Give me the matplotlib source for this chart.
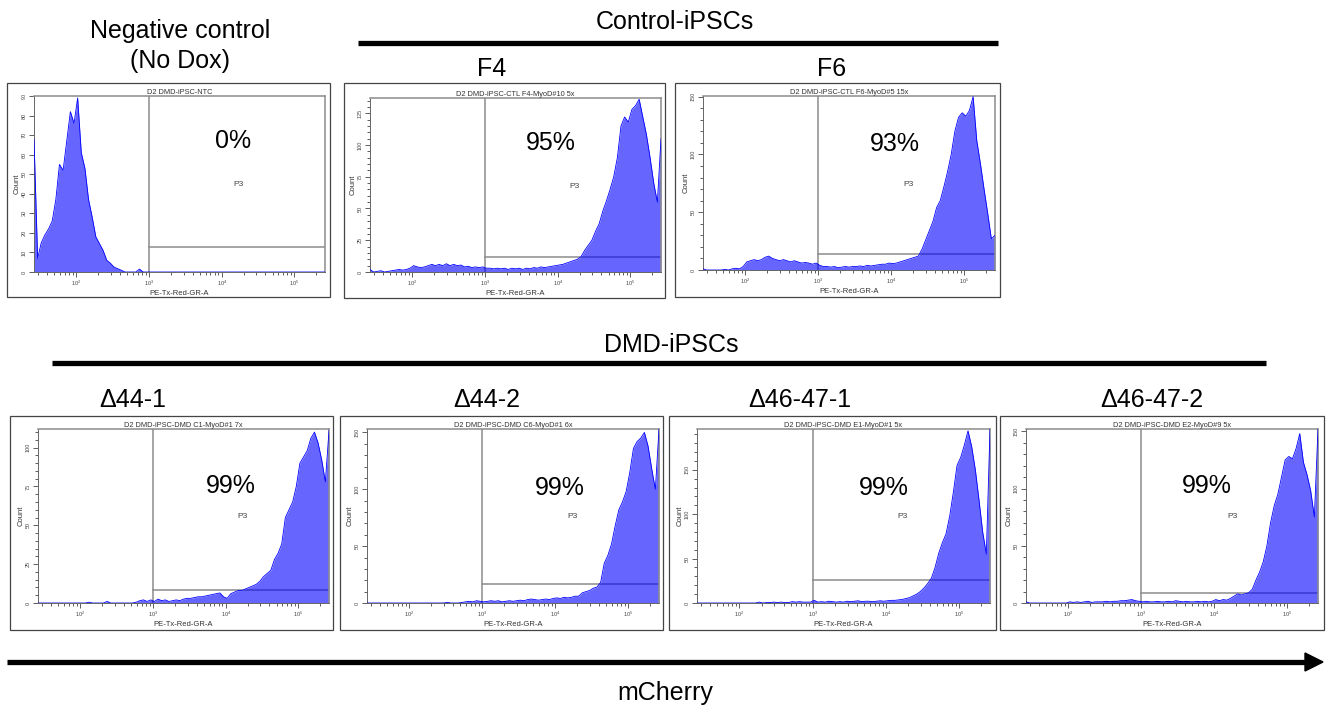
import numpy as np
import matplotlib
matplotlib.use('Agg')
import matplotlib.pyplot as plt
from matplotlib.patches import Rectangle, Polygon
from matplotlib.ticker import MultipleLocator, NullLocator

plt.rcParams['font.family'] = ['Liberation Sans', 'DejaVu Sans']

W, H = 1333, 709

# histogram channels of the cytometer, log10(PE-Tx-Red-GR-A)
log_bins = np.round(1.42 + 0.05 * np.arange(81), 2)

# counts per channel
neg_ctrl = [68, 7, 15, 19, 22, 26, 37, 55, 52, 67,
            82, 76, 89, 61, 53, 37, 28, 18, 14.5, 11,
            6, 4.5, 2.5, 1.7, 0.9, 0, 0, 0, 0, 1.5] + [0] * 51
ctl_f4 = [2, 0, 0.5, 1, 0, 0.5, 1, 1.5, 2, 1.5,
          2, 3, 5, 4, 3.5, 4, 5, 6, 5, 6,
          5, 6.5, 5, 6, 5, 5.5, 4, 4.5, 3.5, 4,
          3.5, 4, 3, 3, 2.5, 3, 2.5, 3, 2, 3,
          2.5, 3, 2, 3, 2.5, 3.5, 3, 4, 3.5, 4,
          4.5, 5, 5.5, 6, 7, 8, 9, 10, 12, 17,
          21, 25, 32, 38, 48, 56, 65, 75, 90, 115,
          122, 118, 128, 131, 136, 122, 108, 90, 70, 55,
          105]
ctl_f6 = [1, 0, 0, 0, 0, 0, 0.5, 0, 1, 1.5,
          1, 3, 7, 8, 9, 8, 9, 11, 12, 10,
          9, 8, 9, 8, 7, 8, 7, 6, 6.5, 6,
          5, 6, 4, 3, 3, 2.5, 3, 2, 2.5, 3,
          2.5, 3, 3, 3.5, 3, 4, 3.5, 4, 4.5, 5,
          5, 6, 5.5, 6, 7, 8, 9, 10, 11, 12,
          18, 26, 34, 42, 54, 60, 72, 85, 100, 120,
          132, 136, 133, 138, 150, 112, 92, 70, 49, 27,
          30]
dmd_44_1 = [0, 0, 0, 0, 0, 0, 0, 0, 0, 0,
            0, 0, 0, 0, 0.5, 0, 0, 0, 0, 1,
            0, 0, 0, 0, 0, 0, 0, 0.5, 1.5, 2,
            1, 2, 1, 2.5, 1.5, 2, 1, 1.5, 2, 1.5,
            2.5, 3, 3, 3.5, 4, 4, 4.5, 5, 5.5, 6,
            6.5, 4, 3, 6, 7, 8, 8, 9, 10, 11,
            12, 14, 17, 19, 21, 28, 32, 38, 55, 60,
            65, 75, 90, 94, 98, 106, 110, 103, 92, 78,
            111]
dmd_44_2 = [0, 0, 0, 0, 0, 0, 0, 0, 0, 0,
            0, 0, 0, 0, 0, 0, 0, 0, 0, 0,
            0, 0, 0.5, 0, 0, 0, 0.5, 1, 1.5, 1,
            2, 1.5, 1, 1.5, 2, 1.5, 2, 1, 1.5, 2,
            1.5, 2, 2.5, 2, 3, 3.5, 3, 2.5, 3, 3.5,
            3, 4, 4.5, 4, 5, 4.5, 5, 6, 6, 9,
            10, 11, 13, 14, 18, 35, 42, 52, 68, 82,
            89, 98, 115, 136, 142, 145, 150, 138, 118, 100,
            153]
dmd_4647_1 = [0, 0, 0, 0, 0, 0, 0, 0, 0, 0,
              0, 0, 0, 0, 0, 0, 0, 1, 0, 0.5,
              0.5, 1, 0.5, 1, 0.5, 0.5, 1.5, 1, 1.5, 1,
              1, 1, 3, 1, 1.5, 1, 2, 1.5, 1, 1.5,
              1, 2, 1.5, 2, 2.5, 1.5, 2, 2, 1.5, 2,
              2.5, 2, 2.5, 3, 3, 3.5, 4, 5, 6, 8,
              10, 13, 17, 22, 28, 40, 56, 68, 78, 98,
              125, 155, 164, 178, 194, 176, 150, 116, 80, 55,
              196]
dmd_4647_2 = [1, 0, 0, 0, 0, 0, 0, 0, 0, 0,
              0, 0, 1, 0.5, 1, 0.5, 1, 1.5, 0.5, 1,
              1, 1, 1.5, 1, 1.5, 1.5, 2, 2, 2.5, 3,
              2, 1.5, 1, 1.5, 1, 1, 1.5, 1, 1, 1.5,
              1, 2, 1.5, 1, 1.5, 1, 1, 1.5, 1, 1.5,
              1, 1.5, 3, 2, 3, 2.5, 4, 6, 8, 7,
              8, 9, 12, 20, 27, 36, 50, 70, 85, 95,
              110, 125, 128, 126, 135, 148, 123, 112, 98, 75,
              152]

sample_names = ['D2 DMD-iPSC-NTC',
                'D2 DMD-iPSC-CTL F4-MyoD#10 5x',
                'D2 DMD-iPSC-CTL F6-MyoD#5 15x',
                'D2 DMD-iPSC-DMD C1-MyoD#1 7x',
                'D2 DMD-iPSC-DMD C6-MyoD#1 6x',
                'D2 DMD-iPSC-DMD E1-MyoD#1 5x',
                'D2 DMD-iPSC-DMD E2-MyoD#9 5x']
pct_in_p3 = ['0%', '95%', '93%', '99%', '99%', '99%', '99%']
gate_low = [12.8, 11.5, 13.8, 8.6, 17, 26.3, 9]
gate_left = 1e3
y_max = [90, 137, 150.5, 112, 153, 196, 152]
y_major = [10, 25, 50, 25, 50, 50, 50]
y_minor = [None, 5, 10, 5, 10, 10, 10]

all_counts = [neg_ctrl, ctl_f4, ctl_f6, dmd_44_1, dmd_44_2, dmd_4647_1, dmd_4647_2]

# layout in pixels (left, top, right, bottom)
plot_box = [(34, 96, 325, 272), (370, 98, 661, 272), (703, 96, 995, 270),
            (38, 429, 329, 603), (367, 429, 659, 603), (697, 429, 990, 603),
            (1026, 429, 1318, 603)]
frame_box = [(7, 83, 330, 297), (344, 83, 665, 298), (675, 83, 1000, 297),
             (10, 416, 333, 630), (340, 416, 663, 630), (669, 416, 996, 630),
             (1000, 416, 1324, 630)]
pct_pos = [(233, 148), (551, 150), (895, 151), (231, 493), (560, 495),
           (884, 495), (1207, 493)]
p3_pos = [(238, 184), (575, 186), (908, 184), (242, 517), (572, 517),
          (902, 517), (1233, 517)]

fig = plt.figure(figsize=(W / 100, H / 100), dpi=100)

x = 10 ** log_bins
for i in range(7):
    l, t, r, b = plot_box[i]
    ax = fig.add_axes([l / W, 1 - b / H, (r - l) / W, (b - t) / H])
    cnt = np.array(all_counts[i])
    ymax = y_max[i]
    # P3 gate
    ax.plot([gate_left, gate_left], [0, ymax], color='#8c8c8c', lw=1.1, zorder=1)
    ax.plot([gate_left, x[-1]], [gate_low[i], gate_low[i]], color='#8c8c8c', lw=1.1, zorder=1)
    ax.fill_between(x, cnt, color='#0000ff', alpha=0.6, lw=0, zorder=2)
    ax.plot(x, cnt, color='#0000ff', lw=0.6, zorder=3)
    ax.set_xscale('log')
    ax.set_xlim(x[0], x[-1])
    ax.set_ylim(0, ymax)
    ax.yaxis.set_major_locator(MultipleLocator(y_major[i]))
    if y_minor[i]:
        ax.yaxis.set_minor_locator(MultipleLocator(y_minor[i]))
    else:
        ax.yaxis.set_minor_locator(NullLocator())
    ax.tick_params(which='both', direction='out', width=0.6, colors='#444444',
                   labelsize=4, pad=1.5)
    ax.tick_params(which='major', length=3.5)
    ax.tick_params(which='minor', length=2)
    for lab in ax.get_yticklabels():
        lab.set_rotation(90)
        lab.set_va('center')
    for side in ['top', 'right']:
        ax.spines[side].set_color('#8c8c8c')
        ax.spines[side].set_linewidth(1.1)
    for side in ['left', 'bottom']:
        ax.spines[side].set_color('#666666')
        ax.spines[side].set_linewidth(0.7)
    ax.set_title(sample_names[i], fontsize=5.3, color='#333333', pad=1.5)
    ax.set_xlabel('PE-Tx-Red-GR-A', fontsize=5.5, color='#333333', labelpad=1)
    ax.set_ylabel('Count', fontsize=5.5, color='#333333', labelpad=1)

# overlay for frames, headings and the mCherry arrow
ov = fig.add_axes([0, 0, 1, 1], zorder=10)
ov.set_xlim(0, W)
ov.set_ylim(H, 0)
ov.axis('off')
ov.patch.set_alpha(0)

for i in range(7):
    l, t, r, b = frame_box[i]
    ov.add_patch(Rectangle((l, t), r - l, b - t, fill=False, ec='#444444', lw=0.9))
    ov.text(pct_pos[i][0], pct_pos[i][1], pct_in_p3[i], fontsize=18,
            ha='center', va='baseline')
    ov.text(p3_pos[i][0], p3_pos[i][1], 'P3', fontsize=6, color='#444444',
            ha='center', va='center')

big = 18
ov.text(180, 38, 'Negative control', fontsize=big, ha='center', va='baseline')
ov.text(180, 68, '(No Dox)', fontsize=big, ha='center', va='baseline')
ov.text(675, 29, 'Control-iPSCs', fontsize=big, ha='center', va='baseline')
ov.plot([358, 998], [43, 43], color='black', lw=3.8, solid_capstyle='butt')
ov.text(492, 76, 'F4', fontsize=big, ha='center', va='baseline')
ov.text(832, 76, 'F6', fontsize=big, ha='center', va='baseline')

ov.text(671, 352, 'DMD-iPSCs', fontsize=big, ha='center', va='baseline')
ov.plot([52, 1266], [363, 363], color='black', lw=3.8, solid_capstyle='butt')
for name, cx in zip(['Δ44-1', 'Δ44-2', 'Δ46-47-1', 'Δ46-47-2'], [133, 487, 800, 1152]):
    ov.text(cx, 407, name, fontsize=big, ha='center', va='baseline')

ov.plot([7, 1308], [662, 662], color='black', lw=3.8, solid_capstyle='butt')
ov.add_patch(Polygon([[1305, 653], [1323, 662], [1305, 671]], closed=True,
                     color='black'))
ov.text(665, 700, 'mCherry', fontsize=big, ha='center', va='baseline')

fig.savefig('out.png', dpi=100)
